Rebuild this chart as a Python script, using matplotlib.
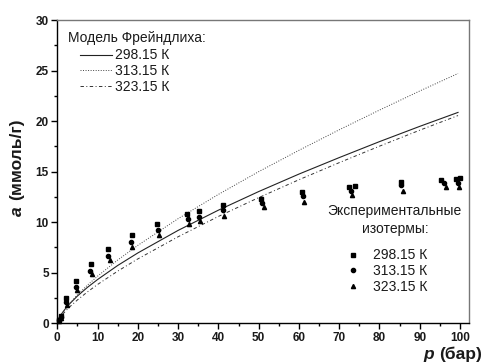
import matplotlib
matplotlib.use("Agg")
import matplotlib.pyplot as plt
from matplotlib.ticker import MultipleLocator
from matplotlib.font_manager import FontProperties

plt.rcParams['font.family'] = ['Liberation Sans', 'DejaVu Sans']

# Experimental adsorption isotherms (pressure in bar, uptake in mmol/g)
p_298 = [0.3, 0.8, 2.2, 4.7, 8.3, 12.7, 18.5, 24.8, 32.3, 35.2, 41.2, 50.5, 60.7, 72.4, 74.0, 85.4, 95.3, 99.1, 99.9]
a_298 = [0.35, 0.75, 2.47, 4.2, 5.86, 7.33, 8.73, 9.83, 10.8, 11.1, 11.7, 12.28, 13.0, 13.5, 13.6, 14.0, 14.2, 14.26, 14.36]

p_313 = [0.3, 0.8, 2.2, 4.7, 8.2, 12.6, 18.3, 24.9, 32.4, 35.2, 41.2, 50.8, 61.0, 73.0, 85.4, 96.0, 99.4]
a_313 = [0.3, 0.65, 2.14, 3.6, 5.21, 6.66, 8.02, 9.2, 10.3, 10.56, 11.2, 11.88, 12.6, 13.1, 13.7, 13.86, 13.92]

p_323 = [0.3, 0.8, 2.4, 4.9, 8.5, 13.0, 18.6, 25.3, 32.6, 35.4, 41.4, 51.2, 61.3, 73.2, 85.8, 96.6, 99.7]
a_323 = [0.25, 0.55, 1.85, 3.33, 4.83, 6.25, 7.53, 8.77, 9.8, 10.07, 10.65, 11.49, 12.04, 12.7, 13.1, 13.52, 13.52]

# Freundlich model curves
p_fit = [0.1, 0.3, 0.6, 1, 2, 3, 5, 7.5, 10, 15, 20, 30, 40, 50, 60, 70, 80, 90, 99.5]
fit_298 = [0.19, 0.39, 0.63, 0.90, 1.44, 1.90, 2.70, 3.56, 4.33, 5.72, 6.96, 9.19, 11.19, 13.03, 14.76, 16.39, 17.97, 19.48, 20.86]
fit_313 = [0.17, 0.37, 0.61, 0.88, 1.45, 1.95, 2.82, 3.78, 4.66, 6.26, 7.71, 10.35, 12.75, 15.00, 17.11, 19.14, 21.09, 22.98, 24.71]
fit_323 = [0.13, 0.30, 0.49, 0.72, 1.19, 1.60, 2.31, 3.11, 3.84, 5.16, 6.37, 8.56, 10.57, 12.43, 14.20, 15.89, 17.52, 19.10, 20.55]

temps = ['298.15 К', '313.15 К', '323.15 К']
x_ticks = [0, 10, 20, 30, 40, 50, 60, 70, 80, 90, 100]
x_ticklabels = ['0', '10', '20', '30', '40', '50', '60', '70', '80', '90', '100']
y_ticks = [0, 5, 10, 15, 20, 25, 30]
y_ticklabels = ['0', '5', '10', '15', '20', '25', '30']

W, H = 483, 363
fig = plt.figure(figsize=(W / 100, H / 100), dpi=100)
ax = fig.add_axes([57.3 / W, 1 - 323.3 / H, (469.3 - 57.3) / W, (323.3 - 20) / H])

txt_color = '#1a1a1a'

l1, = ax.plot(p_fit, fit_298, color='#222222', lw=0.8, ls='-', label=temps[0])
l2, = ax.plot(p_fit, fit_313, color='#444444', lw=0.7, ls=(0, (1, 1.6)), label=temps[1])
l3, = ax.plot(p_fit, fit_323, color='#333333', lw=0.7, ls=(0, (3.5, 2.5, 1, 2.5)), label=temps[2])

ms = 3.0
m1, = ax.plot(p_298, a_298, ls='none', marker='s', ms=ms, color='black', label=temps[0], clip_on=False)
m2, = ax.plot(p_313, a_313, ls='none', marker='o', ms=ms, color='black', label=temps[1], clip_on=False)
m3, = ax.plot(p_323, a_323, ls='none', marker='^', ms=ms, color='black', label=temps[2], clip_on=False)

ax.set_xlim(0, 102.3)
ax.set_ylim(0, 30)
ax.set_xticks(x_ticks)
ax.set_xticklabels(x_ticklabels, fontweight='bold', fontsize=8.5, color=txt_color)
ax.set_yticks(y_ticks)
ax.set_yticklabels(y_ticklabels, fontweight='bold', fontsize=8.5, color=txt_color)
ax.xaxis.set_minor_locator(MultipleLocator(5))
ax.yaxis.set_minor_locator(MultipleLocator(2.5))
ax.tick_params(which='major', direction='out', length=4, width=1.0, pad=2, top=False, right=False)
ax.tick_params(which='minor', direction='out', length=2, width=1.0, top=False, right=False)

for side in ('left', 'bottom'):
    ax.spines[side].set_color('black')
    ax.spines[side].set_linewidth(1.0)
for side in ('top', 'right'):
    ax.spines[side].set_color('#777777')
    ax.spines[side].set_linewidth(1.0)

# Axis labels with italic symbol
xl = fig.text(482 / W, 1 - 359 / H, '(бар)', fontsize=12.5, fontweight='bold',
              ha='right', va='baseline', color=txt_color)
ax.annotate('p', xy=(0, 0), xycoords=xl, xytext=(-4, 0), textcoords='offset points',
            fontsize=12.5, fontweight='bold', fontstyle='italic', ha='right', va='bottom',
            color=txt_color)
yl = fig.text(17 / W, 1 - 119 / H, '(ммоль/г)', fontsize=12.5, fontweight='bold',
              rotation=90, ha='center', va='top', color=txt_color)
ax.annotate('a', xy=(0.5, 0), xycoords=yl, xytext=(0, -4), textcoords='offset points',
            fontsize=12.5, fontweight='bold', fontstyle='italic', rotation=90,
            ha='center', va='top', color=txt_color)

prop = FontProperties(family='Liberation Sans', size=10)

# Model legend (upper left)
fig.text(68.3 / W, 1 - 41.7 / H, 'Модель Фрейндлиха:', fontsize=10, ha='left',
         va='baseline', color=txt_color)
leg1 = ax.legend(handles=[l1, l2, l3], loc='upper left',
                 bbox_to_anchor=(80 / W, 1 - 48.4 / H), bbox_transform=fig.transFigure,
                 frameon=False, borderpad=0, borderaxespad=0, handlelength=2.28,
                 handletextpad=0.24, labelspacing=0.13, prop=prop, labelcolor=txt_color)
ax.add_artist(leg1)

# Experimental legend (lower right)
fig.text(394.5 / W, 1 - 215 / H, 'Экспериментальные', fontsize=10, ha='center',
         va='baseline', color=txt_color)
fig.text(395.3 / W, 1 - 233 / H, 'изотермы:', fontsize=10, ha='center',
         va='baseline', color=txt_color)
leg2 = ax.legend(handles=[m1, m2, m3], loc='upper left',
                 bbox_to_anchor=(347.7 / W, 1 - 248.4 / H), bbox_transform=fig.transFigure,
                 frameon=False, borderpad=0, borderaxespad=0, handlelength=0.8,
                 handletextpad=1.0, labelspacing=0.13, numpoints=1, prop=prop,
                 labelcolor=txt_color)

fig.savefig('out.png', dpi=100)
